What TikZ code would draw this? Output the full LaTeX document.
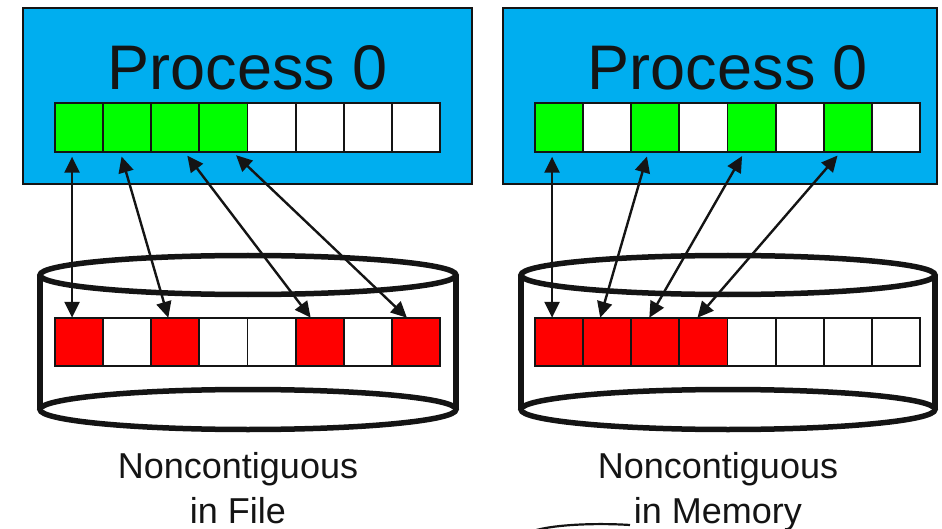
\documentclass[tikz,border=0pt]{standalone}
\usepackage{fontspec}
\setmainfont{Liberation Sans}
\usetikzlibrary{arrows.meta,calc}
\definecolor{procblue}{RGB}{0,174,239}
\definecolor{cellgreen}{RGB}{0,255,0}
\definecolor{cellred}{RGB}{255,0,0}
\definecolor{ink}{RGB}{20,20,20}
\tikzset{
  procbox/.style={draw=ink,line width=2pt,fill=procblue},
  cellbox/.style={draw=ink,line width=1.8pt,minimum width=48.125pt,minimum height=48.5pt,inner sep=0pt,outer sep=0pt},
  disk/.style={draw=ink,line width=5.5pt,fill=white},
  link/.style={draw=ink,line width=2.4pt,{Triangle[length=16pt,width=15pt]}-{Triangle[length=16pt,width=15pt]},shorten <=5pt},
  title/.style={font=\fontsize{63}{63}\selectfont,text=ink,anchor=base,inner sep=0pt},
  caption/.style={font=\fontsize{36}{45}\selectfont,text=ink,anchor=base,inner sep=0pt}
}
\begin{document}
\begin{tikzpicture}[x=1pt,y=-1pt]
\useasboundingbox (0,0) rectangle (942,529);

% process boxes
\draw[procbox] (23,8) rectangle (472,184);
\draw[procbox] (503,8) rectangle (937,184);
\node[title] (tL) at (248,90) {Process 0};
\node[title] (tR) at (728,90) {Process 0};

% disks
\foreach \cx/\rx in {248/208,728/207}{
  \fill[white] (\cx-\rx,275) rectangle (\cx+\rx,409.5);
  \draw[disk] (\cx,409.5) ellipse [x radius=\rx,y radius=20];
  \fill[white] (\cx-\rx,275) rectangle (\cx+\rx,409.5);
  \draw[ink,line width=5.5pt] (\cx-\rx,275) -- (\cx-\rx,409.5) (\cx+\rx,275) -- (\cx+\rx,409.5);
  \draw[ink,line width=5.5pt] (\cx-\rx,409.5) arc[start angle=180,end angle=360,x radius=\rx,y radius=20];
  \draw[disk,fill=none] (\cx,275) ellipse [x radius=\rx,y radius=19.5];
}

% memory buffers (green) and file/memory blocks (red)
\foreach \i/\c in {0/cellgreen,1/cellgreen,2/cellgreen,3/cellgreen,4/white,5/white,6/white,7/white}{
  \node[cellbox,fill=\c] (gL\i) at ({55+48.125*(\i+0.5)},127.5) {};
}
\foreach \i/\c in {0/cellred,1/white,2/cellred,3/white,4/white,5/cellred,6/white,7/cellred}{
  \node[cellbox,fill=\c] (rL\i) at ({55+48.125*(\i+0.5)},342) {};
}
\foreach \i/\c in {0/cellgreen,1/white,2/cellgreen,3/white,4/cellgreen,5/white,6/cellgreen,7/white}{
  \node[cellbox,fill=\c] (gR\i) at ({535+48.125*(\i+0.5)},127.5) {};
}
\foreach \i/\c in {0/cellred,1/cellred,2/cellred,3/cellred,4/white,5/white,6/white,7/white}{
  \node[cellbox,fill=\c] (rR\i) at ({535+48.125*(\i+0.5)},342) {};
}

% transfers, left
\draw[link] ([xshift=-7pt]gL0.south) -- ([xshift=-7pt]rL0.north);
\draw[link] ([xshift=-7pt]gL1.south) -- ([xshift=-7pt]rL2.north);
\draw[link] ([xshift=9pt]gL2.south) -- ([xshift=-9pt]rL5.north);
\draw[link] ([xshift=9pt]gL3.south) -- ([xshift=-9pt]rL7.north);
% transfers, right
\draw[link] ([xshift=-7pt]gR0.south) -- ([xshift=-7pt]rR0.north);
\draw[link] ([xshift=-7pt]gR2.south) -- ([xshift=-7pt]rR1.north);
\draw[link] ([xshift=-7pt]gR4.south) -- ([xshift=-6pt]rR2.north);
\draw[link] ([xshift=-7pt]gR6.south) -- ([xshift=-6pt]rR3.north);

% captions
\node[caption] (cL1) at (238,478) {Noncontiguous};
\node[caption] (cL2) at (238,523) {in File};
\node[caption] (cR1) at (718,478) {Noncontiguous};
\node[caption] (cR2) at (718,523) {in Memory};

% edge of a further shape below
\draw[ink,line width=2.2pt] (533,531) .. controls (555,524) and (600,523) .. (630,525);
\end{tikzpicture}
\end{document}
